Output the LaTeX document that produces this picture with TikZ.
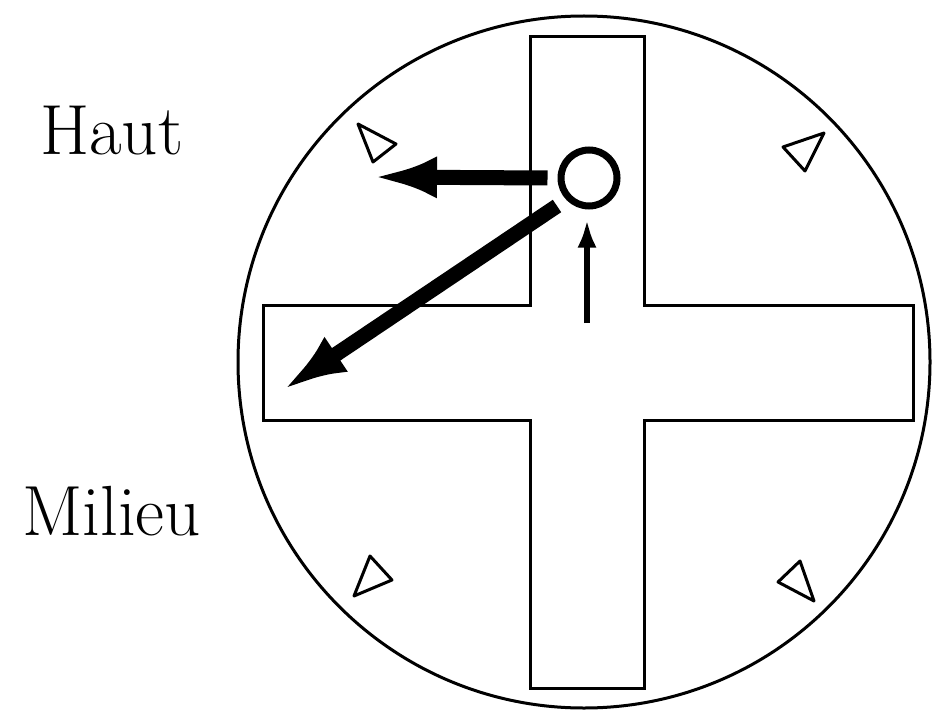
\documentclass[tikz,border=0pt]{standalone}
\usepackage{tikz}
\usetikzlibrary{arrows.meta,calc,positioning}

\tikzset{
  outline/.style={line width=3pt,line join=miter},
  marker/.style={line width=3pt,line join=round},
  bigarrow/.style={line width=15pt,-{Latex[length=64pt,width=42pt]}},
  smallarrow/.style={line width=6pt,-{Latex[length=28pt,width=19pt]}},
  label/.style={anchor=base west,inner sep=0pt,font=\fontsize{71}{84}\selectfont}
}

\begin{document}
\begin{tikzpicture}[x=1pt,y=-1pt]
  \useasboundingbox (0,0) rectangle (936,714);
  % labels
  \node[label] (haut) at (40,155) {Haut};
  \node[label] (milieu) at (22,535) {Milieu};
  % disc
  \draw[outline] (584,362) circle (346);
  % cross
  \draw[outline] (530,37) -- (644,37) -- (644,305) -- (913,305) -- (913,420)
    -- (644,420) -- (644,688) -- (530,688) -- (530,420) -- (263,420)
    -- (263,305) -- (530,305) -- cycle;
  % triangles
  \draw[marker] (358,124) -- (396,144) -- (373,162) -- cycle;
  \draw[marker] (783,147) -- (824,133) -- (805,171) -- cycle;
  \draw[marker] (370,556) -- (392,580) -- (354,596) -- cycle;
  \draw[marker] (800,561) -- (778,582) -- (814,601) -- cycle;
  % centre and arrows
  \node[draw,circle,line width=7pt,minimum size=56pt,inner sep=0pt] (hub) at (589,178) {};
  \coordinate (westtip) at (373,177);
  \coordinate (diagtip) at (283,390);
  \coordinate (stem) at (587,323);
  \draw[bigarrow] ([xshift=-10pt]hub.west) -- (westtip);
  \draw[bigarrow] (557,206) -- (diagtip);
  \draw[smallarrow] (stem) -- ([yshift=-10pt]hub.south -| stem);
\end{tikzpicture}
\end{document}
